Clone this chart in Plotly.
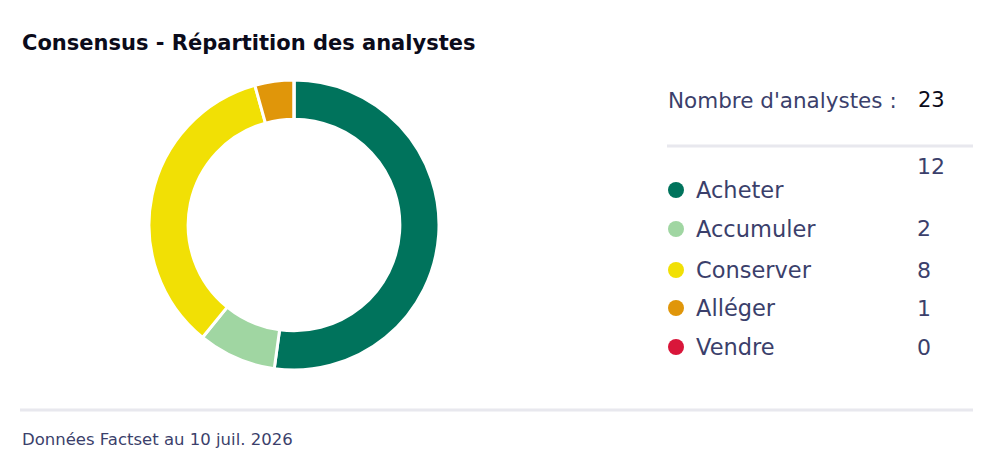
import plotly.graph_objects as go

# Données
categories = ["Acheter", "Accumuler", "Conserver", "Alléger", "Vendre"]
valeurs = [12, 2, 8, 1, 0]
couleurs = ["#00735C", "#A0D6A2", "#F1E005", "#E0960A", "#D9163A"]
total = 23

# la page a une marge de 8px autour de la figure
OFF = 8
W, H = 1002 - 2 * OFF, 466 - 2 * OFF
texte = "#3B3F6B"
police = "DejaVu Sans"

def px(x):
    return (x - OFF) / W

def py(y):
    return 1 - (y - OFF) / H

fig = go.Figure()
fig.add_trace(go.Pie(
    labels=categories, values=valeurs, sort=False, direction="clockwise", rotation=0,
    hole=0.73, marker=dict(colors=couleurs, line=dict(color="white", width=3)),
    textinfo="none", hoverinfo="label+value", showlegend=False,
    domain=dict(x=[px(149), px(439)], y=[py(370), py(80)]),
))

annotations = [
    dict(x=px(20), y=py(43), text="<b>Consensus - Répartition des analystes</b>",
         font=dict(size=21, color="#0B0B1A", family=police), xanchor="left"),
    dict(x=px(666), y=py(100), text="Nombre d'analystes :",
         font=dict(size=21.5, color=texte, family=police), xanchor="left"),
    dict(x=px(916), y=py(100), text=str(total),
         font=dict(size=21, color="#0B0B1A", family=police), xanchor="left"),
    dict(x=px(20), y=py(439), text="Données Factset au 10 juil. 2026",
         font=dict(size=16.5, color=texte, family=police), xanchor="left"),
]

# Légende personnalisée
rows = [190, 229, 270, 308, 347]
shapes = [
    dict(type="line", xref="paper", yref="paper", x0=px(667), x1=px(973), y0=py(146), y1=py(146),
         line=dict(color="#E8E8EE", width=3)),
    dict(type="line", xref="paper", yref="paper", x0=px(20), x1=px(973), y0=py(410), y1=py(410),
         line=dict(color="#E8E8EE", width=3)),
]
for i, (cat, val, col) in enumerate(zip(categories, valeurs, couleurs)):
    yc = rows[i]
    shapes.append(dict(type="circle", xref="paper", yref="paper",
                       x0=px(668), x1=px(684), y0=py(yc + 8), y1=py(yc - 8),
                       fillcolor=col, line=dict(width=0)))
    annotations.append(dict(x=px(694), y=py(yc), text=cat,
                            font=dict(size=22.5, color=texte, family=police), xanchor="left"))
    yv = 166 if i == 0 else yc
    annotations.append(dict(x=px(915), y=py(yv), text=str(val),
                            font=dict(size=22, color=texte, family=police), xanchor="left"))

for a in annotations:
    a.update(xref="paper", yref="paper", yanchor="middle", showarrow=False)

fig.update_layout(width=W, height=H, margin=dict(l=0, r=0, t=0, b=0),
                  paper_bgcolor="white", plot_bgcolor="white",
                  annotations=annotations, shapes=shapes)
fig.write_html("out.html")
